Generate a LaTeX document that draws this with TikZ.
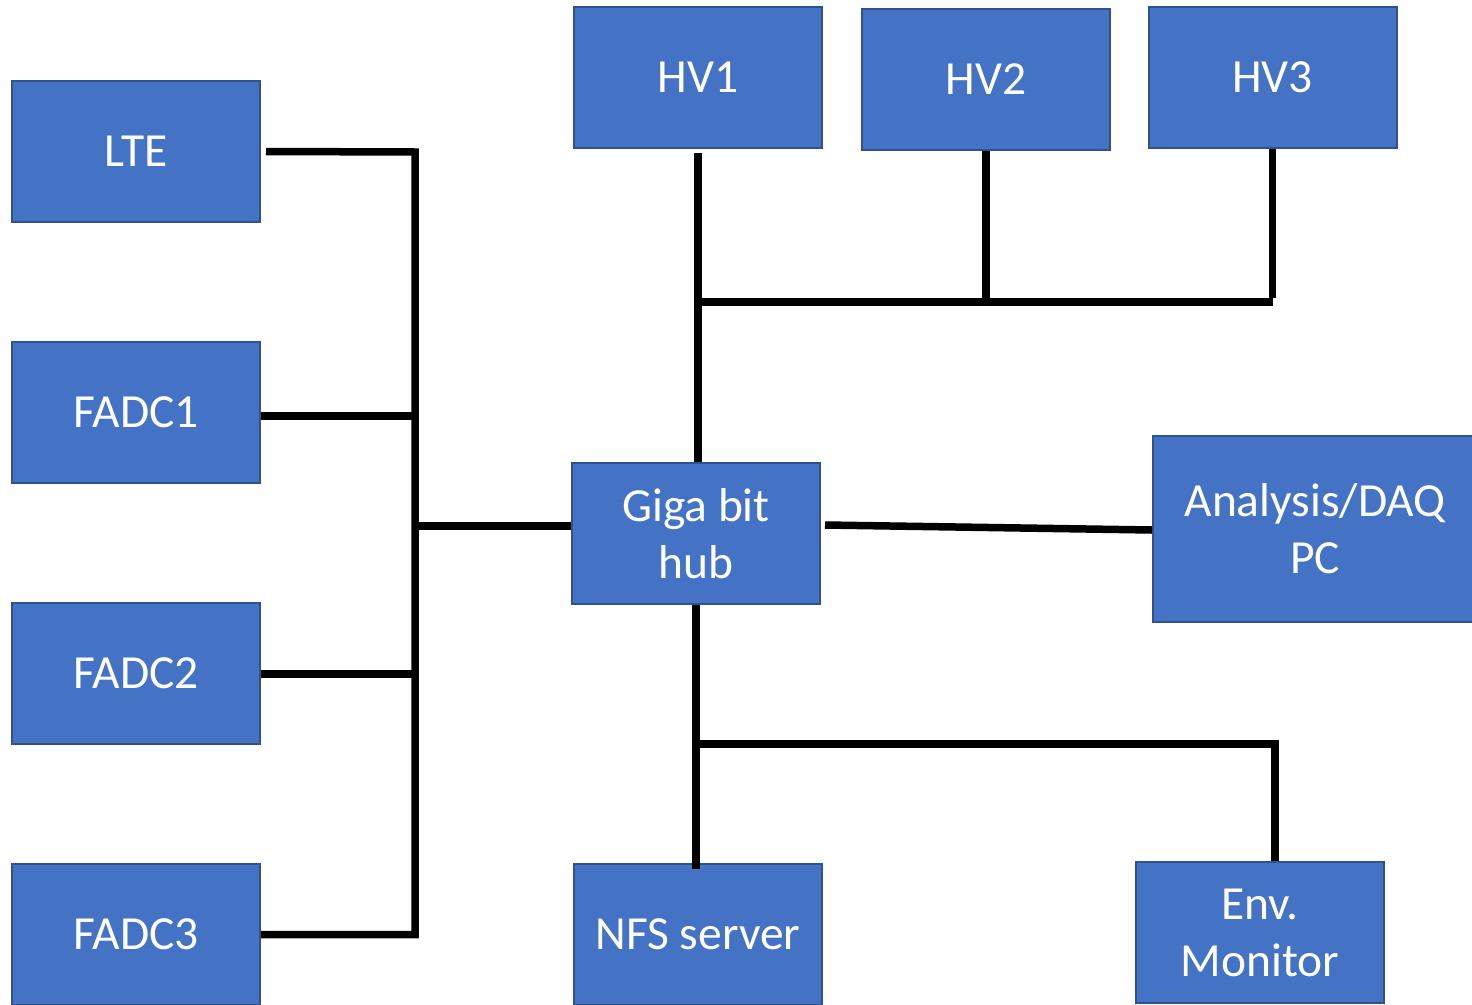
\documentclass[tikz,border=0pt]{standalone}
\usepackage{fontspec}
\setmainfont{Carlito}
\definecolor{boxfill}{HTML}{4472C4}
\definecolor{boxline}{HTML}{2F528F}
\begin{document}
\begin{tikzpicture}[x=1pt,y=-1pt,
  blk/.style={draw=boxline,line width=2pt,fill=boxfill,text=white,
    minimum width=248pt,minimum height=141pt,inner sep=0pt,align=center,
    font=\fontsize{47.5}{57}\selectfont},
  wire/.style={line width=7.5pt,black,line join=miter}]
\useasboundingbox (0,0) rectangle (1472,1004);
\fill[white] (0,0) rectangle (1472,1004);
\node[blk] (LTE) at (136,151.5) {LTE};
\node[blk] (FADC1) at (136,412.5) {FADC1};
\node[blk] (FADC2) at (136,673.5) {FADC2};
\node[blk] (FADC3) at (136,934.5) {FADC3};
\node[blk] (HV1) at (698,77.5) {HV1};
\node[blk] (HV2) at (986,79.5) {HV2};
\node[blk] (HV3) at (1272.5,77.5) {HV3};
\node[blk] (Hub) at (696,533.5) {Giga bit\\hub};
\node[blk,minimum width=324pt,minimum height=186pt] (PC) at (1315,529) {Analysis/DAQ\\PC};
\node[blk] (NFS) at (698,934.5) {NFS server};
\node[blk] (Env) at (1260,932.5) {Env.\\Monitor};
\coordinate (bt) at (415,152);
\coordinate (hb) at (415,526);
\coordinate (hvl) at (698,302);
\coordinate (el) at (696,744);
% left bus
\draw[wire] ([xshift=5pt]LTE.east) -- (bt) -- (bt |- FADC3.east) -- (FADC3.east);
\draw[wire] ([yshift=-3.5pt]FADC1.east) -- ([yshift=-3.5pt]FADC1.east -| bt);
\draw[wire] ([yshift=-0.5pt]FADC2.east) -- ([yshift=-0.5pt]FADC2.east -| bt);
\draw[wire] (hb) -- ([yshift=7.5pt]Hub.west);
% HV bus
\draw[wire] ([yshift=-4pt]HV1.south) -- (HV1.south |- Hub.north);
\draw[wire] (HV2.south) -- (HV2.south |- hvl);
\draw[wire] (HV3.south) -- ([yshift=4pt]HV3.south |- hvl);
\draw[wire] (hvl) -- (hvl -| HV3.south);
% hub to PC
\draw[wire] ([xshift=4pt,yshift=8.5pt]Hub.east) -- ([yshift=-1pt]PC.west);
% lower
\draw[wire] (Hub.south) -- ([yshift=-6pt]Hub.south |- NFS.north);
\draw[wire] (el) -| ([xshift=15pt]Env.north);
\end{tikzpicture}
\end{document}
